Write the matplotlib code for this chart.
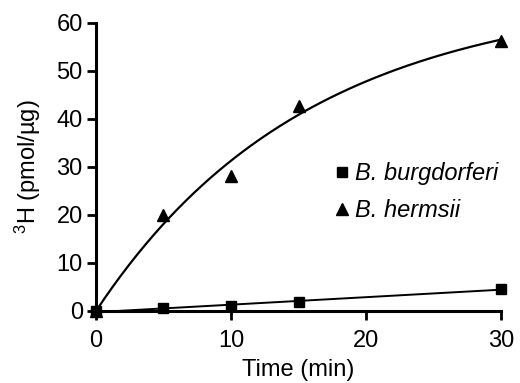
import numpy as np
import matplotlib
matplotlib.use("Agg")
import matplotlib.pyplot as plt

plt.rcParams['font.family'] = ['Liberation Sans', 'DejaVu Sans']

# data
time_min = [0, 5, 10, 15, 30]
burgdorferi = [0, 0.55, 1.05, 1.95, 4.6]
hermsii = [0, 19.9, 28.2, 42.8, 56.3]


def fit_exp(x, y):
    """one phase association Y = Ymax*(1-exp(-kx)), simple grid search on k"""
    x = np.asarray(x, float)
    y = np.asarray(y, float)
    best = None
    for k in np.linspace(0.005, 0.5, 2000):
        f = 1 - np.exp(-k * x)
        ymax = (f * y).sum() / (f * f).sum()
        err = ((y - ymax * f) ** 2).sum()
        if best is None or err < best[0]:
            best = (err, k, ymax)
    return best[1], best[2]


fig = plt.figure(figsize=(5.2, 3.83), dpi=100)
ax = fig.add_axes([0.1846, 0.188, 0.7789, 0.752])

xs = np.linspace(0, 30, 200)

# B. burgdorferi: linear fit
p = np.polyfit(time_min, burgdorferi, 1)
ax.plot(xs, np.polyval(p, xs), color='black', lw=1.4, zorder=2)
ax.plot(time_min, burgdorferi, 's', color='black', ms=6.5, zorder=3,
        label='B. burgdorferi', clip_on=False)

# B. hermsii: exponential association fit
k, ymax = fit_exp(time_min, hermsii)
ax.plot(xs, ymax * (1 - np.exp(-k * xs)), color='black', lw=1.6, zorder=2)
ax.plot(time_min, hermsii, '^', color='black', ms=8.5, zorder=3,
        label='B. hermsii', clip_on=False)

ax.set_xlim(0, 30)
ax.set_ylim(0, 60)
ax.set_xticks([0, 10, 20, 30])
ax.set_yticks([0, 10, 20, 30, 40, 50, 60])
for s in ['top', 'right']:
    ax.spines[s].set_visible(False)
for s in ['left', 'bottom']:
    ax.spines[s].set_linewidth(2.2)
ax.tick_params(width=2.0, length=6.5, labelsize=17, direction='out', pad=3)
ax.tick_params(axis='x', pad=7)

ax.set_xlabel('Time (min)', fontsize=17, labelpad=5)
ax.set_ylabel(r'$\mathregular{^3}$H (pmol/µg)', fontsize=17, labelpad=10)

leg = ax.legend(loc='upper left', bbox_to_anchor=(0.555, 0.55), frameon=False,
                prop={'style': 'italic', 'size': 17}, handletextpad=0.05,
                handlelength=1.0, labelspacing=0.6, borderaxespad=0)

fig.savefig('out.png', dpi=100)
